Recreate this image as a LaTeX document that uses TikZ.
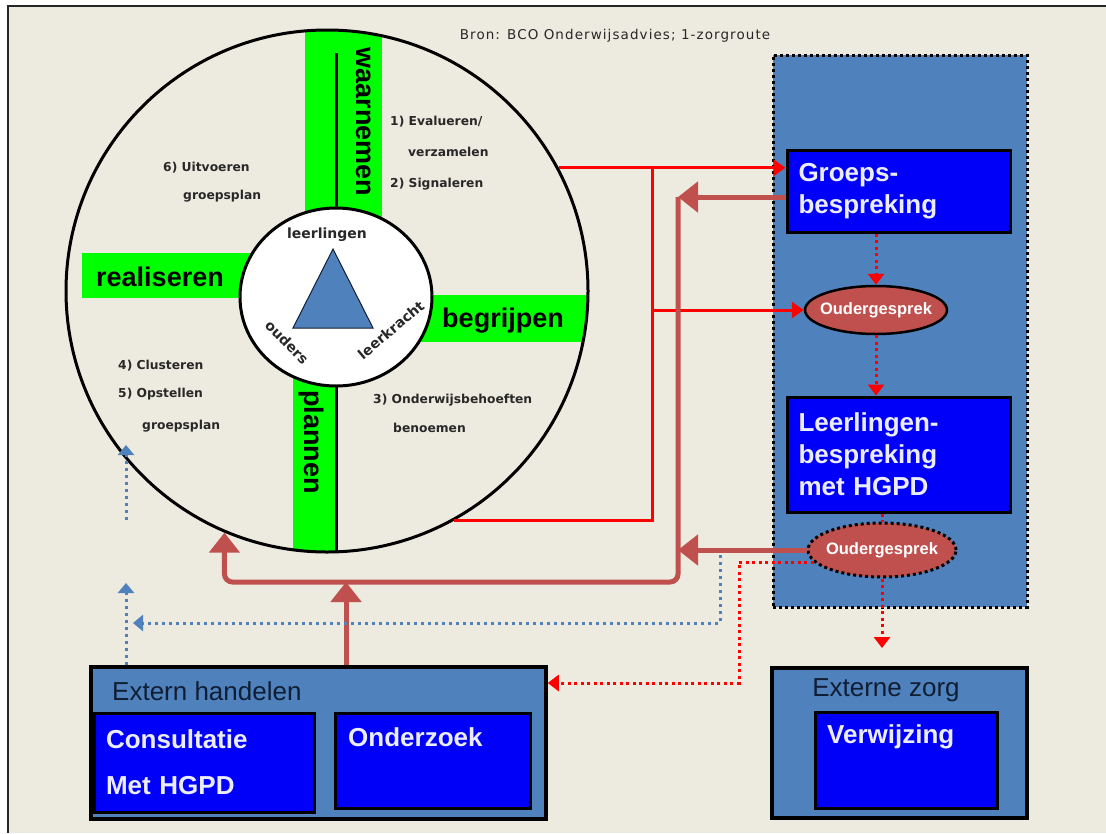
\documentclass[tikz,border=0pt]{standalone}
\usepackage{fontspec}
\setmainfont{Liberation Sans}
\newfontfamily\stepfont{DejaVu Sans}
\newfontfamily\bronfont[LetterSpace=8]{DejaVu Sans}
\usepackage{tikz}
\usetikzlibrary{positioning,arrows.meta,shapes}
\usepackage{xcolor}

\definecolor{paper}{RGB}{237,234,224}
\definecolor{steel}{RGB}{79,129,189}
\definecolor{boxblue}{RGB}{0,0,250}
\definecolor{boxwhite}{RGB}{236,236,255}
\definecolor{brick}{RGB}{192,80,77}
\definecolor{lime}{RGB}{0,255,0}
\definecolor{navy}{RGB}{16,30,52}
\definecolor{txtgray}{RGB}{40,40,40}

\begin{document}
\begin{tikzpicture}[x=1pt, y=-1pt,
    every node/.style={inner sep=0pt},
    phase/.style={font=\fontsize{27}{30}\selectfont\bfseries},
    stepnote/.style={anchor=west, text=txtgray, font=\stepfont\fontsize{12.3}{14}\selectfont\bfseries},
    hubtext/.style={text=txtgray, font=\stepfont\fontsize{14}{16}\selectfont\bfseries},
    bluebox/.style={draw=black, line width=3pt, fill=boxblue, text=boxwhite, align=left, font=\fontsize{26}{32}\selectfont\bfseries},
    boxtext/.style={anchor=west, text=boxwhite, font=\fontsize{26}{32}\selectfont\bfseries},
    steelbox/.style={draw=black, line width=3.5pt, fill=steel},
    boxtitle/.style={text=navy, font=\fontsize{26}{30}\selectfont},
    oval/.style={ellipse, fill=brick, draw=black, line width=2.5pt},
    ovaltext/.style={text=white, font=\fontsize{16.5}{18}\selectfont\bfseries},
    redline/.style={draw=red, line width=3pt},
    redarrow/.style={redline, -{Triangle[length=12pt,width=16pt]}},
    brownarrow/.style={draw=brick, line width=5pt, -{Triangle[length=20pt,width=30pt]}},
    reddots/.style={draw=red, line width=3pt, dash pattern=on 3pt off 3.5pt},
    reddotarrow/.style={reddots, -{Triangle[length=11pt,width=16pt]}},
    bluedotarrow/.style={draw=steel, line width=3pt, dash pattern=on 3pt off 4pt, -{Triangle[length=10pt,width=16pt]}}]

    % Frame
    \path[use as bounding box] (0,0) rectangle (1106,833);
    \fill[paper] (8,6) rectangle (1106,833);
    \draw[line width=2pt, black!85] (8,833) -- (8,6) -- (1106,6);

    \node[text=txtgray, font=\bronfont\fontsize{13.5}{15}\selectfont] (bron) at (615,36) {Bron: BCO Onderwijsadvies; 1-zorgroute};

    % Wheel with the four phases
    \begin{scope}
        \clip (327,291) circle [radius=261];
        \fill[lime] (305,0) rectangle (382,260);
        \fill[lime] (82,253) rectangle (250,298);
        \fill[lime] (420,295) rectangle (600,342);
        \fill[lime] (293,340) rectangle (337,600);
        \draw[line width=3pt] (336,53) -- (336,600);
    \end{scope}
    \node[circle, draw, line width=3pt, minimum size=522] (wheel) at (327,291) {};

    \node[phase] (realiseren) at (160,277) {realiseren};
    \node[phase] (begrijpen) at (503,321) {begrijpen};
    \node[phase, rotate=-90] (waarnemen) at (364,122) {waarnemen};
    \node[phase, rotate=-90] (plannen) at (311,442) {plannen};

    % Centre
    \node[ellipse, draw, fill=white, line width=3pt, minimum width=192, minimum height=178] (hub) at (336,297) {};
    \draw[fill=steel, draw=navy, line width=1pt] (333,249) -- (293,328) -- (373,328) -- cycle;
    \node[hubtext] (leerlingen) at (327,235) {leerlingen};
    \node[hubtext, rotate=-45] (ouders) at (287,342) {ouders};
    \node[hubtext, rotate=40] (leerkracht) at (391,330) {leerkracht};

    % Steps
    \node[stepnote] (s1) at (390,122) {1) Evalueren/};
    \node[stepnote] (s1b) at (408,152) {verzamelen};
    \node[stepnote] (s2) at (390,184) {2) Signaleren};
    \node[stepnote] (s6) at (163,168) {6) Uitvoeren};
    \node[stepnote] (s6b) at (183,196) {groepsplan};
    \node[stepnote] (s4) at (118,366) {4) Clusteren};
    \node[stepnote] (s5) at (118,394) {5) Opstellen};
    \node[stepnote] (s5b) at (142,426) {groepsplan};
    \node[stepnote] (s3) at (373,400) {3) Onderwijsbehoeften};
    \node[stepnote] (s3b) at (393,428) {benoemen};

    % Zorgroute panel
    \node[fill=steel, draw=black, line width=3pt, dash pattern=on 3pt off 3pt, minimum width=254, minimum height=552] (panel) at (900,331) {};
    \node[bluebox, minimum width=223, minimum height=82, text width=200] (groeps) at (898.5,191) {Groeps-\\bespreking};
    \node[oval, minimum width=142, minimum height=48] (ouder1) at (876,310) {};
    \node[ovaltext] (ouder1txt) at (ouder1) {Oudergesprek};
    \node[bluebox, minimum width=223, minimum height=115, text width=200] (llbesp) at (898.5,454.5) {Leerlingen-\\bespreking\\met HGPD};
    \node[oval, dash pattern=on 3pt off 3pt, line width=3pt, minimum width=148, minimum height=54] (ouder2) at (882,550) {};
    \node[ovaltext] (ouder2txt) at (ouder2) {Oudergesprek};

    % Externe zorg
    \node[steelbox, minimum width=255, minimum height=150] (zorg) at (899.5,743) {};
    \node[boxtitle] (zorgtitle) at (886,690) {Externe zorg};
    \node[bluebox, minimum width=182, minimum height=96] (verwijzing) at (906,760) {};
    \node[boxtext] (verwijzingtxt) at (827,737) {Verwijzing};

    % Extern handelen
    \node[steelbox, minimum width=455, minimum height=152] (extern) at (318.5,743) {};
    \node[boxtitle, anchor=west] (externtitle) at (112,691) {Extern handelen};
    \node[bluebox, minimum width=220, minimum height=99, text width=196, font=\fontsize{26}{46}\selectfont\bfseries] (consult) at (204,762.5) {Consultatie\\Met HGPD};
    \node[bluebox, minimum width=195, minimum height=95] (onderzoek) at (432.5,760.5) {};
    \node[boxtext] (onderzoektxt) at (348,737) {Onderzoek};

    % Red connectors
    \coordinate (rtop) at (652,167);
    \draw[redarrow] (wheel.28.4) -- (wheel.28.4 -| groeps.west);
    \draw[redline] (wheel.-61.3) -| (rtop);
    \draw[redarrow] (rtop |- ouder1.west) -- (ouder1.west);

    % Brown connectors
    \coordinate (bjoin) at (678,197);
    \coordinate (bcorner) at (678,582);
    \draw[brownarrow] (groeps.west |- bjoin) -- (bjoin);
    \draw[brownarrow] (ouder2.west) -- (ouder2.west -| bjoin);
    \draw[brownarrow, rounded corners=8pt] (bjoin) -- (bcorner) -| (wheel.-113.7);
    \draw[brownarrow] ([xshift=27.5pt]extern.north) -- ([xshift=27.5pt]extern.north |- bcorner);

    % Dotted connectors
    \draw[reddotarrow] (groeps.south -| ouder1.north) -- (ouder1.north);
    \draw[reddotarrow] (ouder1.south) -- (ouder1.south |- llbesp.north);
    \draw[reddots] (llbesp.south -| ouder2.north) -- (ouder2.north);
    \coordinate (zorgtip) at (882,648);
    \draw[reddotarrow] (ouder2.south) -- (zorgtip);
    \coordinate (rdcorner) at (739,683);
    \draw[reddotarrow] (ouder2.190) -| (rdcorner) -- (rdcorner -| extern.east);

    \coordinate (bstart) at (720,555);
    \coordinate (bturn) at (720,623);
    \coordinate (bend) at (133,623);
    \draw[bluedotarrow] (bstart) -- (bturn) -- (bend);
    \coordinate (btip1) at (126,583);
    \draw[bluedotarrow] (btip1 |- extern.north) -- (btip1);
    \coordinate (bfoot) at (126,520);
    \coordinate (btip2) at (126,445);
    \draw[bluedotarrow] (bfoot) -- (btip2);
\end{tikzpicture}
\end{document}
